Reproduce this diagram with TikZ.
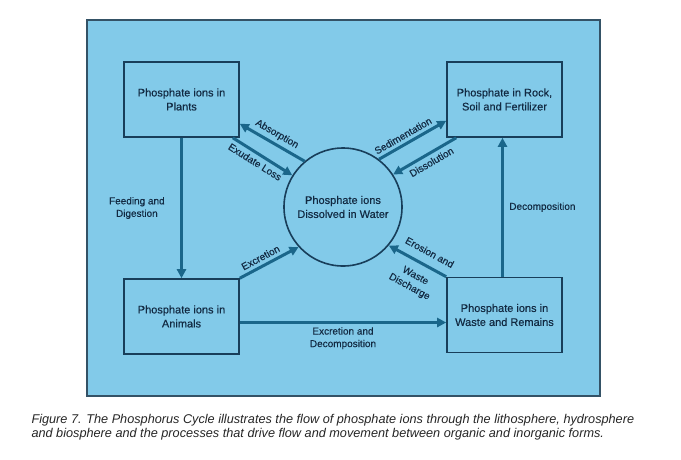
\documentclass[tikz,border=0pt]{standalone}
\usepackage{fontspec}
\setmainfont{Liberation Sans}
\newfontfamily\medfont{Liberation Sans}[FakeBold=0.35]
\usetikzlibrary{arrows.meta}
\definecolor{panelblue}{RGB}{130,202,233}
\definecolor{panelrim}{RGB}{52,82,102}
\definecolor{boxrim}{RGB}{24,62,90}
\definecolor{flowblue}{RGB}{26,102,138}
\definecolor{ink}{RGB}{18,42,66}
\begin{document}
\begin{tikzpicture}[x=1pt, y=-1pt, >={Triangle[length=9pt,width=9pt]},
    pool/.style={draw=boxrim, line width=1.6pt, minimum width=115pt, minimum height=75pt,
        align=center, text=ink, font=\medfont\fontsize{11}{14}\selectfont},
    flow/.style={draw=flowblue, line width=3pt, ->},
    lbl/.style={text=ink, align=center, font=\medfont\fontsize{10}{12.5}\selectfont}]
        \useasboundingbox (0,0) rectangle (681,459);
        \fill[white] (0,0) rectangle (681,459);
        \draw[panelrim, fill=panelblue, line width=1.8pt] (87,20) rectangle (600,396);

        % Pools
        \node[pool] (plants) at (181.5,99.5) {Phosphate ions in\\Plants};
        \node[pool] (rock) at (504.5,99.5) {Phosphate in Rock,\\Soil and Fertilizer};
        \node[pool] (animals) at (181.5,316.5) {Phosphate ions in\\Animals};
        \node[pool] (waste) at (504.5,315) {Phosphate ions in\\Waste and Remains};
        \node[circle, draw=boxrim, line width=1.6pt, minimum size=118pt, align=center, text=ink,
            font=\medfont\fontsize{11}{14}\selectfont] (water) at (343,207) {Phosphate ions\\Dissolved in Water};

        % Plants <-> water
        \draw[flow] (water.130) -- node[lbl, sloped, above] {Absorption} ([yshift=14pt]plants.south east);
        \draw[flow] ([xshift=-7pt]plants.south east) -- node[lbl, sloped, below, pos=0.45] {Exudate Loss} (water.148);

        % Rock <-> water
        \draw[flow] (water.53) -- node[lbl, sloped, above, pos=0.42] {Sedimentation} ([yshift=17pt]rock.south west);
        \draw[flow] ([xshift=10pt]rock.south west) -- node[lbl, sloped, below, pos=0.46] {Dissolution} (water.33);

        % Food chain
        \draw[flow] (plants.south) -- node[lbl, left=12pt] {Feeding and\\Digestion} (animals.north);
        \draw[flow] (animals.north east) -- node[lbl, sloped, above, pos=0.42] {Excretion} (water.222);
        \draw[flow] ([yshift=-6pt]animals.east) -- node[lbl, below] {Excretion and\\Decomposition} ([yshift=-6pt]animals.east -| waste.west);

        % Waste
        \draw[flow] (waste.north west) -- node[lbl, sloped, above=5pt, pos=0.4] {Erosion and}
            node[lbl, sloped, below=5pt, pos=0.42] {Waste\\Discharge} (water.320);
        \draw[flow] ([xshift=-2pt]waste.north) -- node[lbl, right, xshift=2pt] {Decomposition} ([xshift=-2pt]rock.south);

        % Caption
        \node[anchor=west, align=left, text=black!85, font=\itshape\fontsize{12.7}{14.5}\selectfont] (caption) at (28,427)
            {Figure 7. The Phosphorus Cycle illustrates the flow of phosphate ions through the lithosphere, hydrosphere\\
             and biosphere and the processes that drive flow and movement between organic and inorganic forms.};
    \end{tikzpicture}
\end{document}
